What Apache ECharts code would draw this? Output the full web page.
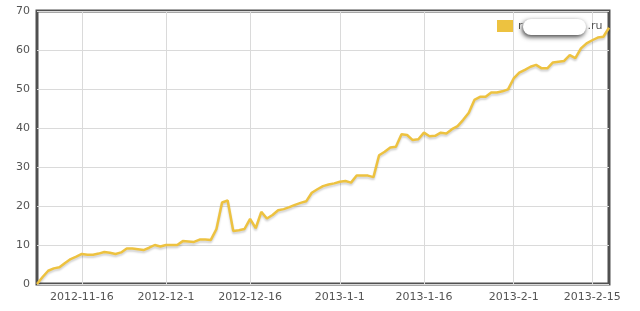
<!DOCTYPE html>
<html>
<head>
<meta charset="utf-8">
<script src="https://cdn.jsdelivr.net/npm/echarts@6/dist/echarts.min.js"></script>
<style>html,body{margin:0;padding:0;background:#fff}#c{width:640px;height:311px}</style>
</head>
<body>
<div id="c"></div>
<script>
// Daily categories from 2012-11-8 to 2013-2-18
var startDate = [2012, 10, 8];
var dayCount = 103;
var categories = [];
(function () {
  var d = new Date(startDate[0], startDate[1], startDate[2]);
  for (var i = 0; i < dayCount; i++) {
    categories.push(d.getFullYear() + '-' + (d.getMonth() + 1) + '-' + d.getDate());
    d.setDate(d.getDate() + 1);
  }
})();

var tickLabels = ['2012-11-16', '2012-12-1', '2012-12-16', '2013-1-1', '2013-1-16', '2013-2-1', '2013-2-15'];

var seriesName = 'r.ru';
var values = [
  0, 1.8, 3.4, 4.0, 4.3, 5.4, 6.4, 7.0, 7.7, 7.5,
  7.5, 7.8, 8.2, 8.0, 7.7, 8.1, 9.1, 9.1, 8.9, 8.7,
  9.3, 10.0, 9.6, 10.0, 10.0, 10.0, 11.0, 10.9, 10.8, 11.4,
  11.4, 11.3, 14.1, 20.9, 21.4, 13.6, 13.8, 14.1, 16.7, 14.3,
  18.5, 16.8, 17.7, 18.9, 19.2, 19.7, 20.3, 20.8, 21.2, 23.4,
  24.3, 25.1, 25.5, 25.8, 26.2, 26.4, 26.0, 27.8, 27.8, 27.8,
  27.4, 33.0, 33.9, 35.0, 35.2, 38.4, 38.2, 36.9, 37.1, 38.8,
  37.9, 38.0, 38.8, 38.6, 39.7, 40.5, 42.1, 43.9, 47.2, 48.0,
  48.0, 49.1, 49.1, 49.4, 49.9, 52.7, 54.2, 54.9, 55.7, 56.2,
  55.3, 55.3, 56.8, 57.0, 57.2, 58.7, 57.9, 60.4, 61.7, 62.5,
  63.2, 63.4, 65.7
];

var tickSet = {};
tickLabels.forEach(function (t) { tickSet[t] = true; });
function isTick(index, value) { return !!tickSet[categories[index]]; }

var chart = echarts.init(document.getElementById('c'), null, { renderer: 'canvas' });
chart.setOption({
  animation: false,
  backgroundColor: '#fff',
  textStyle: { fontFamily: 'DejaVu Sans' },
  grid: {
    left: 37, right: 31, top: 11, bottom: 27,
    show: true, borderColor: '#505050', borderWidth: 3, backgroundColor: 'transparent'
  },
  legend: {
    left: 497, top: 20, padding: 0,
    itemWidth: 16, itemHeight: 12, itemGap: 5,
    icon: 'rect',
    data: [seriesName],
    formatter: function () { return '{a|r}{b|}{a|.ru}'; },
    textStyle: {
      rich: {
        a: { fontSize: 11, color: '#545454', fontFamily: 'DejaVu Sans' },
        b: { width: 65 }
      }
    }
  },
  xAxis: {
    type: 'category',
    boundaryGap: false,
    data: categories,
    axisLine: { show: false },
    axisTick: { show: false },
    axisLabel: {
      interval: isTick,
      color: '#545454', fontSize: 11, margin: 8, fontFamily: 'DejaVu Sans'
    },
    splitLine: { show: true, interval: isTick, lineStyle: { color: '#dadada', width: 1 } }
  },
  yAxis: {
    type: 'value', min: 0, max: 70, interval: 10,
    axisLine: { show: false },
    axisTick: { show: false },
    axisLabel: { color: '#545454', fontSize: 11, margin: 7, fontFamily: 'DejaVu Sans' },
    splitLine: { lineStyle: { color: '#dadada', width: 1 } }
  },
  series: [{
    name: seriesName,
    type: 'line',
    data: values,
    symbol: 'none',
    color: '#edc240',
    lineStyle: {
      width: 2.5, color: '#edc240',
      shadowColor: 'rgba(0,0,0,0.18)', shadowBlur: 2, shadowOffsetX: 0, shadowOffsetY: 2
    }
  }],
  graphic: [{
    type: 'rect', z: 100,
    shape: { x: 523, y: 19, width: 63, height: 16, r: 8 },
    style: { fill: '#fff', shadowBlur: 5, shadowColor: 'rgba(0,0,0,0.75)', shadowOffsetX: -1, shadowOffsetY: 2 }
  }]
});
</script>
</body>
</html>
